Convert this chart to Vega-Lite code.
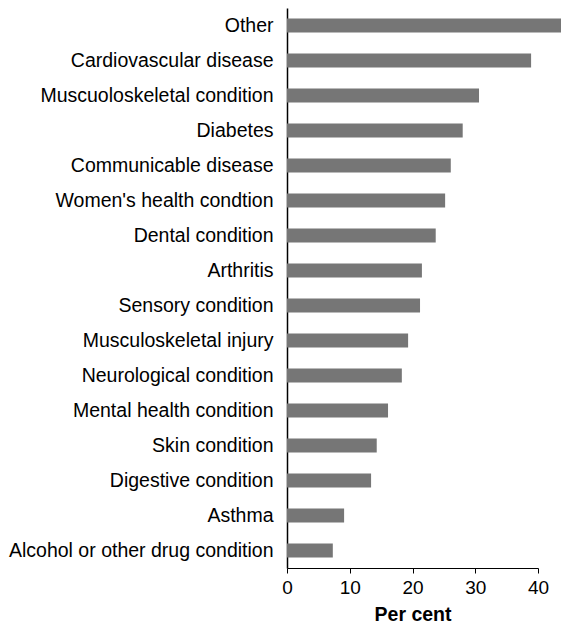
{
  "$schema": "https://vega.github.io/schema/vega-lite/v6.json",
  "autosize": {"type": "none"},
  "padding": {"left": 287, "top": 8, "right": 23, "bottom": 56},
  "width": 251,
  "height": 560,
  "background": "white",
  "data": {
    "values": [
      {"condition": "Other", "pct": 43.7},
      {"condition": "Cardiovascular disease", "pct": 38.9},
      {"condition": "Muscuoloskeletal condition", "pct": 30.6},
      {"condition": "Diabetes", "pct": 28.0},
      {"condition": "Communicable disease", "pct": 26.1},
      {"condition": "Women's health condtion", "pct": 25.2},
      {"condition": "Dental condition", "pct": 23.7},
      {"condition": "Arthritis", "pct": 21.5},
      {"condition": "Sensory condition", "pct": 21.2},
      {"condition": "Musculoskeletal injury", "pct": 19.3},
      {"condition": "Neurological condition", "pct": 18.3},
      {"condition": "Mental health condition", "pct": 16.1},
      {"condition": "Skin condition", "pct": 14.3},
      {"condition": "Digestive condition", "pct": 13.4},
      {"condition": "Asthma", "pct": 9.1},
      {"condition": "Alcohol or other drug condition", "pct": 7.3}
    ]
  },
  "mark": {"type": "bar", "color": "#767676", "clip": false},
  "encoding": {
    "y": {
      "field": "condition",
      "type": "nominal",
      "sort": "-x",
      "scale": {"paddingInner": 0.6, "paddingOuter": 0.3},
      "axis": {
        "title": null,
        "ticks": false,
        "labelPadding": 14,
        "labelFont": "Liberation Sans",
        "labelFontSize": 19.5,
        "labelColor": "#000000",
        "domainColor": "#000000",
        "domainWidth": 1.5,
        "labelLimit": 400
      }
    },
    "x": {
      "field": "pct",
      "type": "quantitative",
      "scale": {"domain": [0, 40], "nice": false, "clamp": false},
      "axis": {
        "values": [0, 10, 20, 30, 40],
        "grid": false,
        "title": "Per cent",
        "titleFont": "Liberation Sans",
        "titleFontSize": 19.5,
        "titleFontWeight": "bold",
        "titleColor": "#000000",
        "titlePadding": 8,
        "labelFont": "Liberation Sans",
        "labelFontSize": 19,
        "labelColor": "#000000",
        "labelPadding": 5,
        "tickColor": "#000000",
        "tickSize": 5,
        "domainColor": "#000000",
        "labelFlush": false
      }
    }
  },
  "config": {"view": {"stroke": null}}
}
